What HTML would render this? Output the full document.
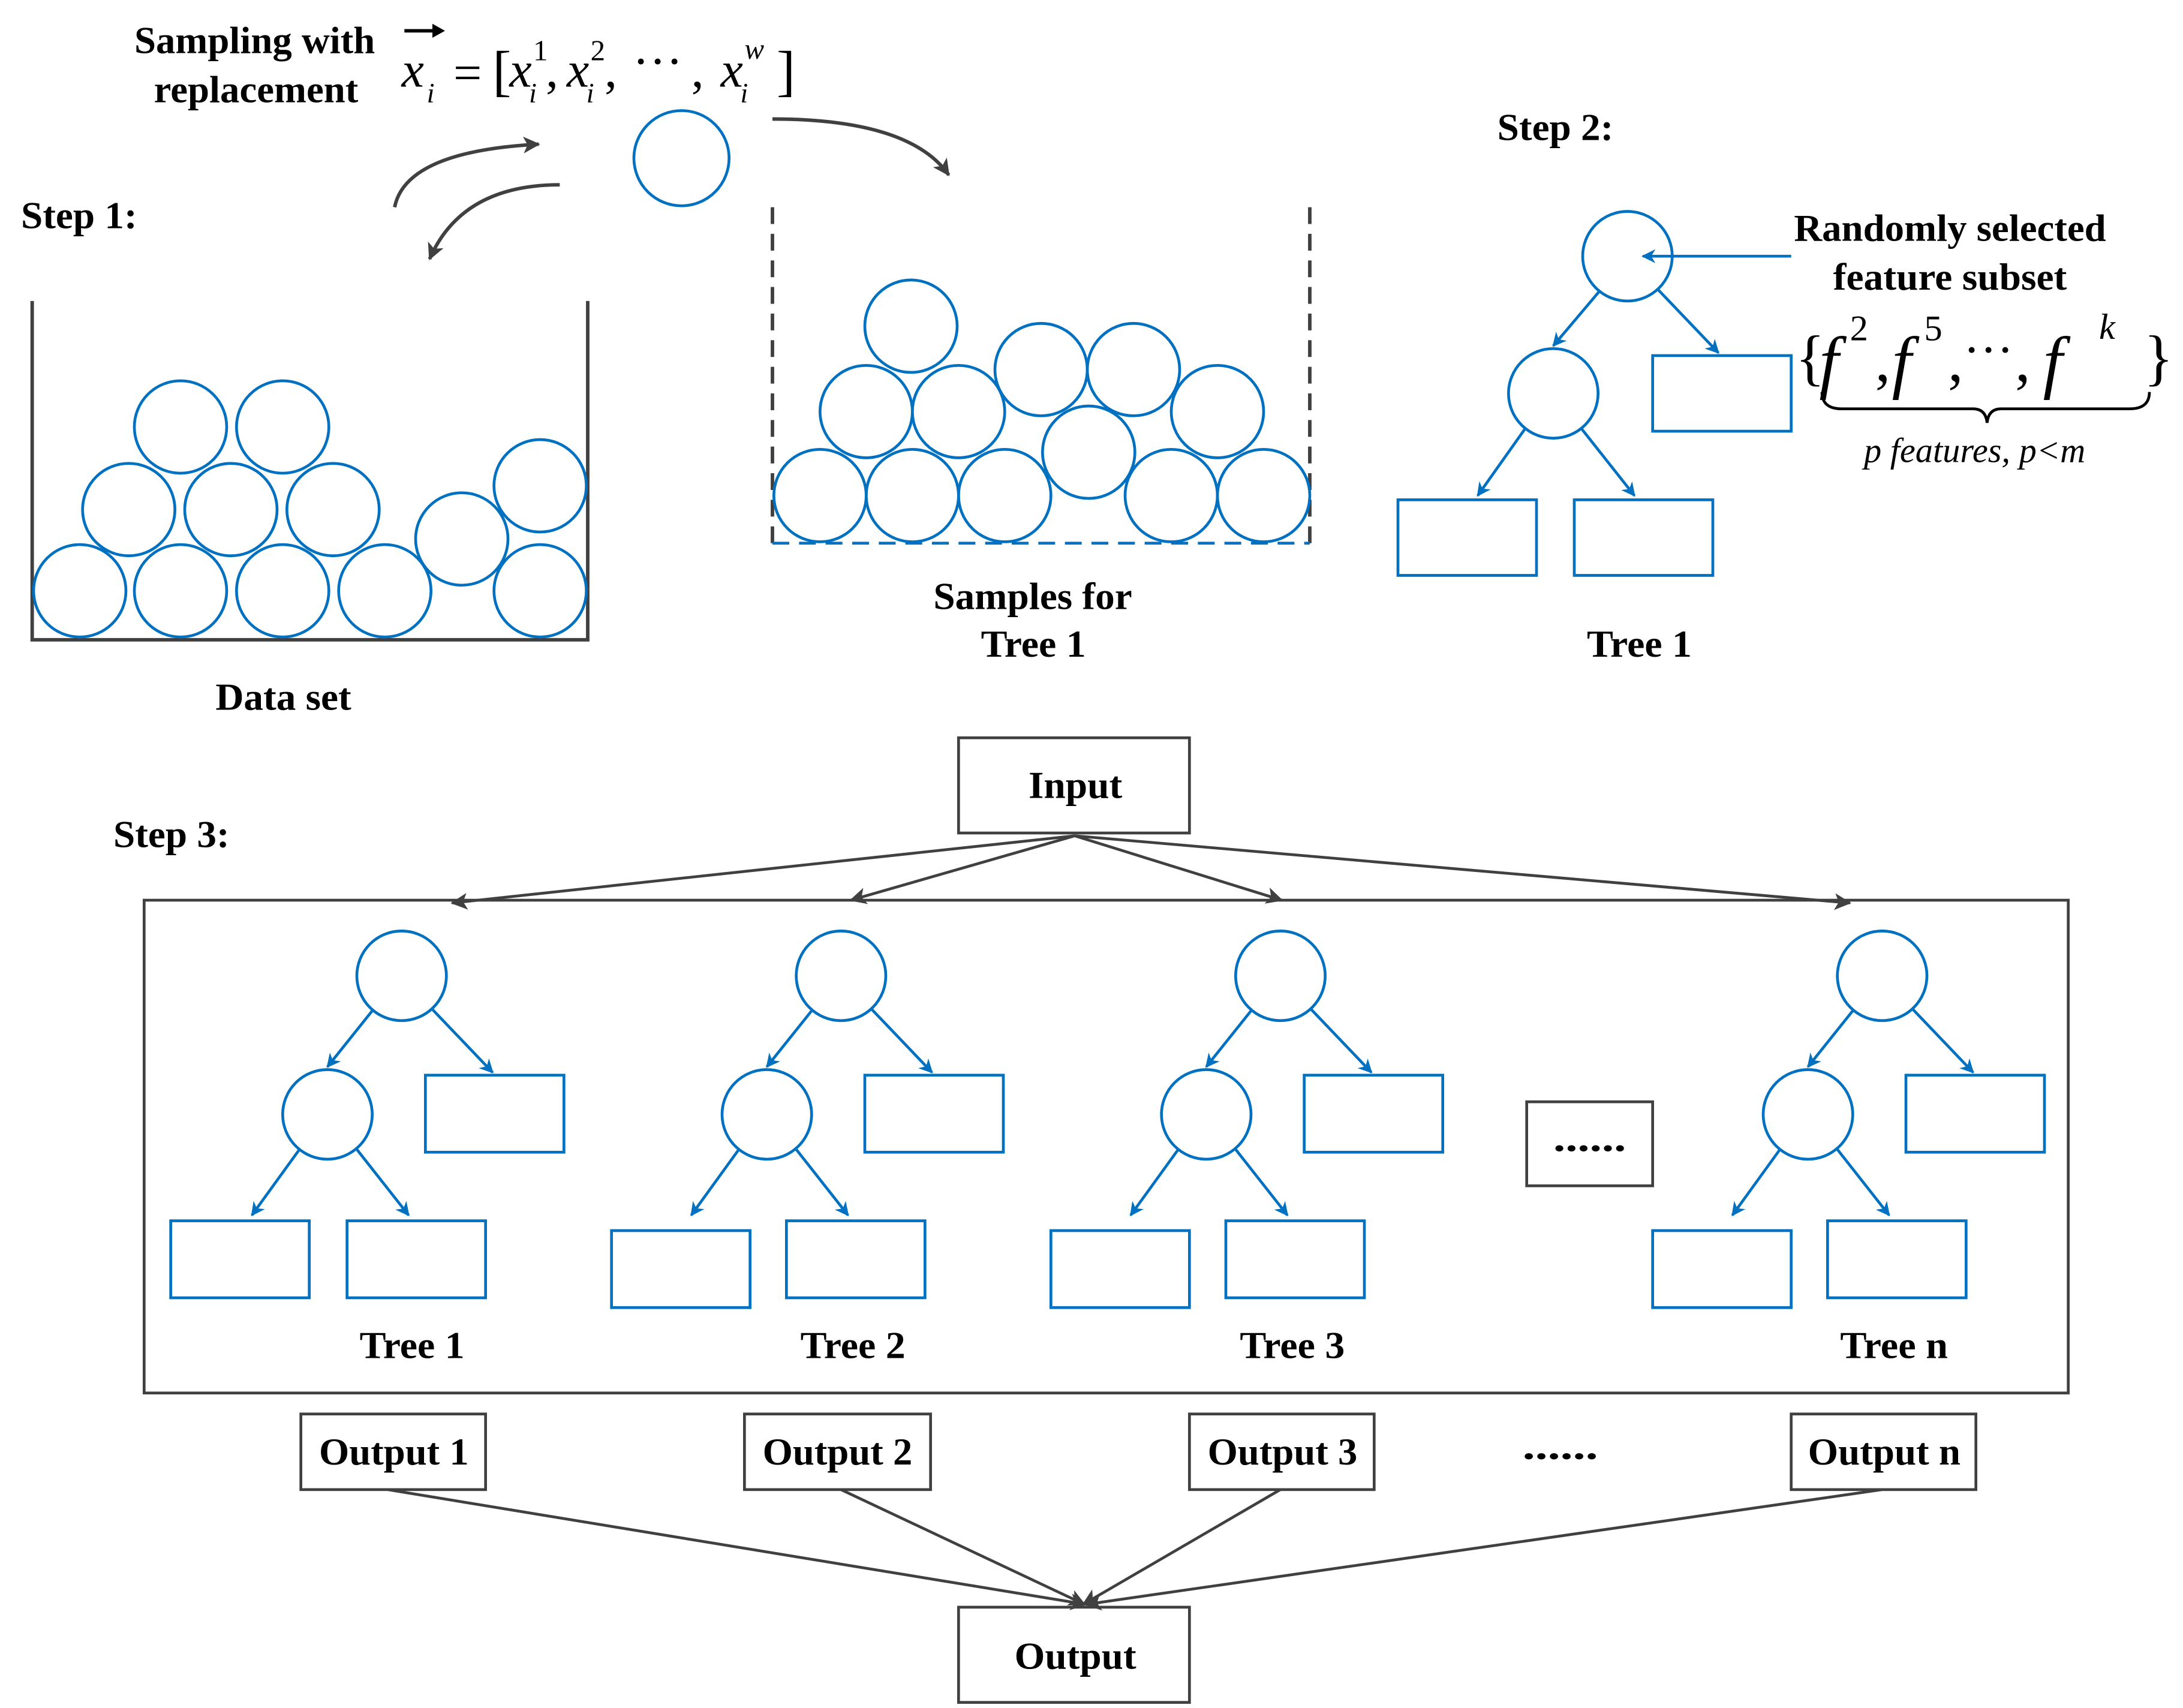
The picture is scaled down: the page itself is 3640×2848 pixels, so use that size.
<!DOCTYPE html>
<html><head><meta charset="utf-8"><style>html,body{margin:0;padding:0;background:#fff}svg{display:block}</style></head>
<body>
<svg width="3640" height="2848" viewBox="0 0 1560 1220" preserveAspectRatio="none" xmlns="http://www.w3.org/2000/svg">
<defs>
<marker id="ab" markerWidth="10" markerHeight="10" refX="9" refY="5" orient="auto" markerUnits="userSpaceOnUse"><path d="M0,0 L10,5 L0,10 L3,5 Z" fill="#0070c0"/></marker>
<marker id="ak" markerWidth="12" markerHeight="12" refX="11" refY="6" orient="auto" markerUnits="userSpaceOnUse"><path d="M0,0 L12,6 L0,12 L3,6 Z" fill="#404040"/></marker>
</defs>
<g font-family="Liberation Serif, serif" font-weight="bold" font-size="27" fill="#000">
<text x="96" y="38" textLength="172" lengthAdjust="spacingAndGlyphs">Sampling with</text>
<text x="110" y="73" textLength="146" lengthAdjust="spacingAndGlyphs">replacement</text>
<text x="15" y="163" textLength="83" lengthAdjust="spacingAndGlyphs">Step 1:</text>
<text x="1070" y="100" textLength="83" lengthAdjust="spacingAndGlyphs">Step 2:</text>
<text x="81" y="605" textLength="83" lengthAdjust="spacingAndGlyphs">Step 3:</text>
<text x="154" y="507" textLength="97" lengthAdjust="spacingAndGlyphs">Data set</text>
<text x="667" y="435" textLength="142" lengthAdjust="spacingAndGlyphs">Samples for</text>
<text x="701" y="469" textLength="75" lengthAdjust="spacingAndGlyphs">Tree 1</text>
<text x="1134" y="469" textLength="75" lengthAdjust="spacingAndGlyphs">Tree 1</text>
<text x="1282" y="172" textLength="223" lengthAdjust="spacingAndGlyphs">Randomly selected</text>
<text x="1310" y="207" textLength="167" lengthAdjust="spacingAndGlyphs">feature subset</text>
<text x="735" y="570" textLength="67" lengthAdjust="spacingAndGlyphs">Input</text>
<text x="257" y="970" textLength="75" lengthAdjust="spacingAndGlyphs">Tree 1</text>
<text x="572" y="970" textLength="75" lengthAdjust="spacingAndGlyphs">Tree 2</text>
<text x="886" y="970" textLength="75" lengthAdjust="spacingAndGlyphs">Tree 3</text>
<text x="1315" y="970" textLength="77" lengthAdjust="spacingAndGlyphs">Tree n</text>
<text x="228" y="1046" textLength="107" lengthAdjust="spacingAndGlyphs">Output 1</text>
<text x="545" y="1046" textLength="107" lengthAdjust="spacingAndGlyphs">Output 2</text>
<text x="863" y="1046" textLength="107" lengthAdjust="spacingAndGlyphs">Output 3</text>
<text x="1292" y="1046" textLength="109" lengthAdjust="spacingAndGlyphs">Output n</text>
<text x="1110" y="822" textLength="52" lengthAdjust="spacingAndGlyphs">......</text>
<text x="1088" y="1042" textLength="54" lengthAdjust="spacingAndGlyphs">......</text>
<text x="725" y="1192" textLength="87" lengthAdjust="spacingAndGlyphs">Output</text>
</g>
<g font-family="Liberation Serif, serif" fill="#000">
<text x="287" y="62" font-size="36" font-style="italic">x</text>
<text x="305" y="73" font-size="20" font-style="italic">i</text>
<path d="M289,22 L312,22" stroke="#000" stroke-width="2.5"/><path d="M309,17 L318,22 L309,27Z" fill="#000"/>
<text x="324" y="64" font-size="36">=</text>
<text x="352" y="64" font-size="40">[</text>
<text x="364" y="62" font-size="36" font-style="italic">x</text>
<text x="378" y="73" font-size="20" font-style="italic">i</text>
<text x="381" y="43" font-size="21">1</text>
<text x="390" y="62" font-size="36">,</text>
<text x="405" y="62" font-size="36" font-style="italic">x</text>
<text x="419" y="73" font-size="20" font-style="italic">i</text>
<text x="422" y="43" font-size="21">2</text>
<text x="432" y="62" font-size="36">,</text>
<text x="452" y="56" font-size="36">···</text>
<text x="494" y="62" font-size="36">,</text>
<text x="515" y="62" font-size="36" font-style="italic">x</text>
<text x="529" y="73" font-size="20" font-style="italic">i</text>
<text x="532" y="42" font-size="21" font-style="italic">w</text>
<text x="555" y="64" font-size="40">]</text>
<text x="1283" y="270" font-size="44">{</text>
<text x="1300" y="275" font-size="50" font-style="italic">f</text>
<text x="1322" y="243" font-size="26">2</text>
<text x="1340" y="272" font-size="44">,</text>
<text x="1352" y="275" font-size="50" font-style="italic">f</text>
<text x="1375" y="243" font-size="26">5</text>
<text x="1392" y="272" font-size="44">,</text>
<text x="1403" y="262" font-size="36">···</text>
<text x="1440" y="272" font-size="44">,</text>
<text x="1460" y="275" font-size="50" font-style="italic">f</text>
<text x="1500" y="242" font-size="26" font-style="italic">k</text>
<text x="1532" y="270" font-size="44">}</text>
<text x="1332" y="330" font-size="25" font-style="italic">p  features, p&lt;m</text>
</g>
<path d="M1302,280 Q1302,292 1316,292 L1410,292 Q1419,292 1420,302 Q1421,292 1430,292 L1522,292 Q1536,292 1536,280" fill="none" stroke="#000" stroke-width="2"/>
<g fill="none" stroke="#404040" stroke-width="2.5">
<path d="M282,148 Q290,108 385,103" marker-end="url(#ak)"/>
<path d="M400,132 Q330,132 307,185" marker-end="url(#ak)"/>
<path d="M552,85 Q650,85 678,125" marker-end="url(#ak)"/>
<path d="M23,215 L23,457 L420,457 L420,215"/>
<path d="M552,148 L552,388 M936,148 L936,388" stroke-dasharray="12,7"/>
</g>
<path d="M552,388 L936,388" stroke="#0070c0" stroke-width="2" stroke-dasharray="12,7"/>
<g fill="none" stroke="#0070c0" stroke-width="2">
<circle cx="487" cy="113" r="34"/>
<circle cx="57" cy="422" r="33"/><circle cx="129" cy="422" r="33"/><circle cx="202" cy="422" r="33"/><circle cx="275" cy="422" r="33"/><circle cx="386" cy="422" r="33"/>
<circle cx="92" cy="364" r="33"/><circle cx="165" cy="364" r="33"/><circle cx="238" cy="364" r="33"/>
<circle cx="129" cy="305" r="33"/><circle cx="202" cy="305" r="33"/>
<circle cx="330" cy="385" r="33"/><circle cx="386" cy="347" r="33"/>
<circle cx="651" cy="233" r="33"/><circle cx="619" cy="294" r="33"/><circle cx="685" cy="294" r="33"/><circle cx="744" cy="264" r="33"/><circle cx="810" cy="264" r="33"/><circle cx="870" cy="294" r="33"/><circle cx="778" cy="323" r="33"/>
<circle cx="586" cy="354" r="33"/><circle cx="652" cy="354" r="33"/><circle cx="718" cy="354" r="33"/><circle cx="837" cy="354" r="33"/><circle cx="903" cy="354" r="33"/>
<circle cx="1163" cy="183" r="32"/><circle cx="1110" cy="281" r="32"/>
<rect x="1181" y="254" width="99" height="54"/><rect x="999" y="357" width="99" height="54"/><rect x="1125" y="357" width="99" height="54"/>
<path d="M1143,208 L1110,247" marker-end="url(#ab)"/><path d="M1185,207 L1228,252" marker-end="url(#ab)"/>
<path d="M1090,306 L1056,354" marker-end="url(#ab)"/><path d="M1130,306 L1168,354" marker-end="url(#ab)"/>
<path d="M1280,183 L1174,183" marker-end="url(#ab)"/>
<g id="t1">
<circle cx="287" cy="697" r="32"/><circle cx="234" cy="796" r="32"/>
<rect x="304" y="768" width="99" height="55"/>
<path d="M266,722 L234,762" marker-end="url(#ab)"/><path d="M309,721 L352,766" marker-end="url(#ab)"/>
<path d="M214,821 L180,868" marker-end="url(#ab)"/><path d="M255,821 L292,868" marker-end="url(#ab)"/>
</g>
<use href="#t1" x="314"/><use href="#t1" x="628"/><use href="#t1" x="1058"/>
<rect x="122" y="872" width="99" height="55"/><rect x="248" y="872" width="99" height="55"/>
<rect x="437" y="879" width="99" height="55"/><rect x="562" y="872" width="99" height="55"/>
<rect x="751" y="879" width="99" height="55"/><rect x="876" y="872" width="99" height="55"/>
<rect x="1181" y="879" width="99" height="55"/><rect x="1306" y="872" width="99" height="55"/>
</g>
<g fill="none" stroke="#404040" stroke-width="2">
<rect x="685" y="527" width="165" height="68"/>
<rect x="103" y="643" width="1375" height="352"/>
<rect x="1091" y="787" width="90" height="60"/>
<rect x="215" y="1010" width="132" height="54"/><rect x="532" y="1010" width="133" height="54"/><rect x="850" y="1010" width="132" height="54"/><rect x="1280" y="1010" width="132" height="54"/>
<rect x="685" y="1148" width="165" height="68"/>
<path d="M768,597 L323,645" marker-end="url(#ak)"/><path d="M768,597 L608,643" marker-end="url(#ak)"/><path d="M768,597 L916,643" marker-end="url(#ak)"/><path d="M768,597 L1322,645" marker-end="url(#ak)"/>
<path d="M277,1064 L776,1146" marker-end="url(#ak)"/><path d="M601,1064 L775,1146" marker-end="url(#ak)"/><path d="M915,1064 L774,1146" marker-end="url(#ak)"/><path d="M1345,1064 L776,1146" marker-end="url(#ak)"/>
</g>
</svg>
</body></html>
